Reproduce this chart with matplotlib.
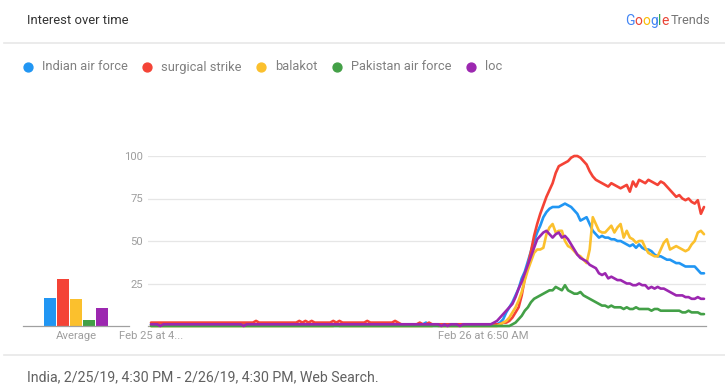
import matplotlib

matplotlib.use("Agg")
import matplotlib.pyplot as plt
from matplotlib.lines import Line2D

plt.rcParams["font.family"] = ["Roboto", "DejaVu Sans"]

# ----- data (Google Trends, India, past day, 8-minute steps) -----
terms = ["Indian air force", "surgical strike", "balakot", "Pakistan air force", "loc"]
colors = ["#2196f3", "#f44336", "#fbc02d", "#43a047", "#9c27b0"]
averages = [16.3, 27.5, 15.7, 3.5, 10.8]

indian_air_force = [
    1, 1, 1, 1, 1, 1, 1, 1, 1, 1,
    1, 1, 1, 1, 1, 1, 1, 1, 1, 1,
    1, 1, 1, 1, 1, 1, 1, 1, 1, 1,
    1, 1, 1, 1, 1, 1, 1, 1, 1, 1,
    1, 1, 1, 1, 1, 1, 1, 1, 1, 1,
    1, 1, 1, 1, 1, 1, 1, 1, 1, 1,
    1, 1, 1, 1, 1, 1, 1, 1, 1, 1,
    1, 1, 1, 1, 1, 1, 1, 1, 1, 1,
    1, 1, 1, 1, 1, 1, 1, 1, 1, 2,
    1, 1, 1, 1, 1, 1, 1, 1, 1, 1,
    1, 1, 1, 1, 1, 1, 1, 1, 1, 1,
    1, 1, 1, 2, 4, 8, 11, 14, 18, 22,
    28, 32, 38, 44, 50, 55, 59, 64, 67, 69,
    70, 70, 70, 71, 72, 71, 70, 68, 66, 62,
    63, 64, 60, 56, 54, 52, 53, 52, 52, 51,
    51, 50, 50, 49, 48, 47, 48, 46, 48, 46,
    45, 45, 44, 42, 41, 41, 40, 39, 39, 38,
    37, 37, 36, 35, 35, 35, 35, 33, 31, 31,
]
surgical_strike = [
    2, 2, 2, 2, 2, 2, 2, 2, 2, 2,
    2, 2, 2, 2, 2, 2, 2, 2, 2, 2,
    2, 2, 2, 2, 2, 2, 2, 2, 2, 2,
    2, 2, 2, 2, 3, 2, 2, 2, 2, 2,
    2, 2, 2, 2, 2, 2, 2, 2, 3, 2,
    3, 2, 3, 2, 2, 2, 2, 2, 2, 3,
    2, 3, 2, 2, 2, 2, 2, 2, 2, 2,
    3, 2, 2, 2, 2, 2, 2, 2, 2, 3,
    2, 1, 1, 1, 1, 1, 1, 2, 1, 1,
    2, 1, 1, 1, 1, 1, 1, 1, 1, 1,
    1, 1, 1, 1, 1, 1, 1, 1, 1, 1,
    1, 1, 1, 1, 2, 2, 3, 5, 8, 11,
    18, 28, 36, 44, 53, 60, 66, 71, 76, 80,
    84, 90, 94, 95, 96, 97, 99, 100, 100, 99,
    97, 95, 91, 88, 86, 85, 84, 83, 82, 84,
    83, 82, 81, 82, 83, 79, 85, 82, 86, 85,
    84, 86, 85, 84, 83, 85, 84, 82, 80, 78,
    76, 77, 75, 74, 75, 73, 72, 74, 66, 70,
]
balakot = [
    0, 0, 0, 0, 0, 0, 0, 0, 0, 0,
    0, 0, 0, 0, 0, 0, 0, 0, 0, 0,
    0, 0, 0, 0, 0, 0, 0, 0, 0, 0,
    0, 0, 0, 0, 0, 0, 0, 0, 0, 0,
    0, 0, 0, 0, 0, 0, 0, 0, 0, 0,
    0, 0, 0, 0, 0, 0, 0, 0, 0, 0,
    1, 0, 0, 0, 0, 0, 0, 0, 0, 0,
    0, 0, 0, 0, 0, 0, 0, 0, 0, 0,
    0, 0, 0, 0, 0, 0, 0, 0, 0, 0,
    0, 0, 1, 0, 0, 0, 0, 0, 0, 0,
    0, 0, 0, 0, 0, 0, 0, 0, 0, 0,
    0, 0, 0, 1, 2, 3, 5, 8, 11, 15,
    20, 27, 33, 38, 43, 45, 45, 46, 54, 58,
    60, 55, 56, 56, 50, 47, 46, 44, 42, 41,
    39, 37, 45, 64, 60, 56, 55, 55, 57, 59,
    55, 58, 60, 52, 56, 52, 51, 49, 50, 50,
    46, 43, 42, 41, 41, 45, 49, 51, 45, 46,
    47, 46, 45, 44, 45, 48, 50, 55, 56, 54,
]
pakistan_air_force = [
    0, 0, 0, 0, 0, 0, 0, 0, 0, 0,
    0, 0, 0, 0, 0, 0, 0, 0, 0, 0,
    0, 0, 0, 0, 0, 0, 0, 0, 0, 0,
    0, 0, 0, 0, 0, 0, 0, 0, 0, 0,
    0, 0, 0, 0, 0, 0, 0, 0, 0, 0,
    0, 0, 0, 0, 0, 0, 0, 0, 0, 0,
    0, 0, 0, 0, 0, 0, 0, 0, 0, 0,
    0, 0, 0, 0, 0, 0, 0, 0, 0, 0,
    0, 0, 0, 0, 0, 0, 0, 0, 0, 0,
    0, 0, 0, 0, 0, 0, 0, 0, 0, 0,
    0, 0, 0, 0, 0, 0, 0, 0, 0, 0,
    0, 0, 0, 0, 0, 0, 0, 1, 2, 4,
    6, 9, 11, 14, 16, 17, 18, 19, 20, 21,
    21, 23, 22, 21, 24, 21, 20, 19, 19, 20,
    18, 17, 16, 15, 14, 13, 12, 12, 11, 12,
    11, 11, 11, 10, 11, 10, 10, 11, 10, 10,
    10, 10, 9, 10, 10, 9, 9, 9, 9, 9,
    9, 9, 8, 8, 9, 8, 8, 8, 7, 7,
]
loc = [
    1, 1, 1, 0, 1, 1, 1, 1, 1, 1,
    1, 1, 1, 1, 1, 1, 1, 1, 1, 1,
    1, 1, 1, 1, 1, 1, 1, 1, 1, 1,
    0, 1, 1, 1, 1, 1, 1, 1, 1, 1,
    1, 1, 1, 1, 1, 1, 1, 1, 1, 1,
    1, 1, 1, 1, 1, 1, 1, 1, 1, 1,
    1, 1, 1, 1, 1, 1, 1, 1, 1, 1,
    1, 1, 1, 1, 1, 1, 1, 1, 1, 1,
    1, 1, 1, 1, 1, 1, 1, 1, 1, 1,
    1, 1, 1, 1, 0, 1, 0, 1, 1, 1,
    0, 1, 1, 1, 1, 1, 1, 1, 1, 1,
    1, 2, 3, 5, 7, 9, 11, 13, 17, 22,
    26, 31, 36, 41, 46, 51, 53, 55, 56, 54,
    52, 54, 55, 52, 53, 51, 48, 45, 42, 40,
    39, 38, 36, 35, 34, 31, 30, 31, 28, 29,
    28, 27, 27, 26, 25, 25, 24, 24, 25, 24,
    24, 22, 23, 22, 23, 22, 22, 21, 20, 19,
    18, 18, 18, 17, 17, 16, 16, 17, 16, 16,
]
series = [indian_air_force, surgical_strike, balakot, pakistan_air_force, loc]

x_tick_pos = [0, 107.5]
x_tick_labels = ["Feb 25 at 4...", "Feb 26 at 6:50 AM"]
y_ticks = [25, 50, 75, 100]

title = "Interest over time"
footer = "India, 2/25/19, 4:30 PM - 2/26/19, 4:30 PM, Web Search."

# ----- layout (pixels of a 725x384 canvas) -----
W, H = 725, 384
GRID = "#e6e6e6"
AXIS = "#a0a0a0"
LABEL = "#9e9e9e"


def fx(px):
    return px / W


def fy(py):
    return 1 - py / H


fig = plt.figure(figsize=(W / 100, H / 100), dpi=100)
fig.patch.set_facecolor("white")

# main time series
ax = fig.add_axes([fx(148), fy(326), (706 - 148) / W, (326 - 156) / H])
ax.set_xlim(-0.97, 179.65)
ax.set_ylim(0, 100)
for s in ["top", "right", "left"]:
    ax.spines[s].set_visible(False)
ax.spines["bottom"].set_color(AXIS)
ax.spines["bottom"].set_linewidth(0.9)
for yv in y_ticks:
    ax.axhline(yv, color=GRID, linewidth=0.9, zorder=0)
ax.set_yticks(y_ticks)
ax.set_yticklabels([str(v) for v in y_ticks])
ax.set_xticks(x_tick_pos)
ax.set_xticklabels(x_tick_labels)
ax.tick_params(axis="both", length=0, labelsize=8.1, labelcolor=LABEL)
ax.tick_params(axis="y", pad=3.6)
ax.tick_params(axis="x", pad=3.5)

xs = list(range(len(surgical_strike)))
for vals, col in zip(series, colors):
    ax.plot(xs, vals, color=col, linewidth=1.9, clip_on=False,
            solid_joinstyle="round", solid_capstyle="round", zorder=3)

# average bars (transparent background so the y labels stay visible)
bx = fig.add_axes([fx(23), fy(326), (129 - 23) / W, (326 - 156) / H])
bx.patch.set_visible(False)
bx.set_xlim(-2.08, 6.08)
bx.set_ylim(0, 100)
bx.bar(range(len(averages)), averages, width=0.94, color=colors, zorder=2)
for s in ["top", "right", "left"]:
    bx.spines[s].set_visible(False)
bx.spines["bottom"].set_color(AXIS)
bx.spines["bottom"].set_linewidth(0.9)
bx.set_yticks([])
bx.set_xticks([2])
bx.set_xticklabels(["Average"])
bx.tick_params(axis="x", length=0, labelsize=8.1, labelcolor=LABEL, pad=3.5)

# header, separators, footer
fig.text(fx(27), fy(20), title, fontsize=9.4, color="#333333", va="center")
for py in (43, 355):
    fig.add_artist(Line2D([fx(4), 1], [fy(py), fy(py)], color="#e8e8e8",
                          linewidth=1.2, transform=fig.transFigure))
fig.text(fx(27), fy(381), footer, fontsize=10.2, color="#616161", va="baseline")

renderer = fig.canvas.get_renderer()

# legend row
x = 28
for term, col in zip(terms, colors):
    fig.add_artist(Line2D([fx(x)], [fy(67)], marker="o", markersize=6.4,
                          color=col, linestyle="none", transform=fig.transFigure))
    t = fig.text(fx(x + 13.5), fy(67), term, fontsize=9.3, color="#808080", va="center")
    bb = t.get_window_extent(renderer)
    x = bb.x1 + 20

# Google Trends logo
logo = [("G", "#4285f4"), ("o", "#ea4335"), ("o", "#fbbc05"),
        ("g", "#4285f4"), ("l", "#34a853"), ("e", "#ea4335")]
x = 625
for ch, col in logo:
    t = fig.text(fx(x), fy(21), ch, fontsize=10, color=col, va="center")
    x = t.get_window_extent(renderer).x1
fig.text(fx(x + 2.5), fy(21), "Trends", fontsize=9.2, color="#757575", va="center")

fig.savefig("out.png", dpi=100, facecolor="white")
plt.close(fig)
